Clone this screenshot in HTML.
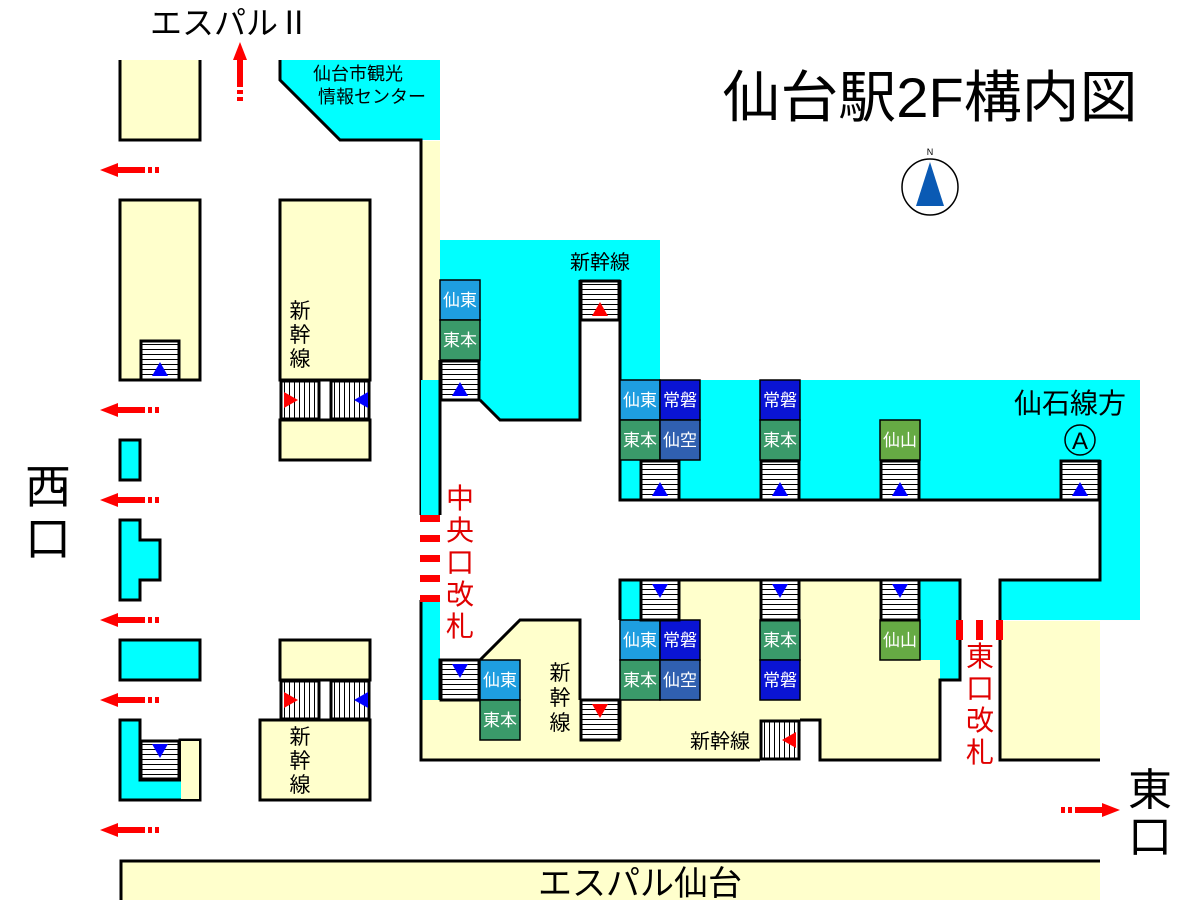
<!DOCTYPE html><html><head><meta charset="utf-8"><style>body{margin:0;background:#fff}svg{display:block}text{font-family:"Liberation Sans","Noto Sans CJK JP",sans-serif}</style></head><body>
<svg width="1200" height="900" viewBox="0 0 1200 900" xmlns="http://www.w3.org/2000/svg">
<defs>
<pattern id="hs" width="8" height="5" patternUnits="userSpaceOnUse"><rect width="8" height="5" fill="#fff"/><line x1="0" y1="4.5" x2="8" y2="4.5" stroke="#000" stroke-width="1"/></pattern>
<pattern id="vs" width="5" height="8" patternUnits="userSpaceOnUse"><rect width="5" height="8" fill="#fff"/><line x1="4.5" y1="0" x2="4.5" y2="8" stroke="#000" stroke-width="1"/></pattern>
<g id="arL"><polygon points="0,0 18,-7 18,-3 45,-3 45,3 18,3 18,7" fill="#f00"/><rect x="48" y="-3" width="4" height="6" fill="#f00"/><rect x="55" y="-3" width="4" height="6" fill="#f00"/></g>
</defs>
<g stroke="#000" stroke-width="3" stroke-linejoin="miter">
<path d="M120,60 V140 H200 V60" fill="#ffffcc"/>
<polygon points="280,60 440,60 440,140 340,140 280,80" fill="#00ffff" stroke="none"/>
<polyline points="280,60 280,80 340,140 421,140 421,515" fill="none"/>
<rect x="421" y="141" width="19" height="239" fill="#ffffcc" stroke="none"/>
<rect x="421" y="380" width="19" height="135" fill="#00ffff" stroke="none"/>
<line x1="421" y1="140" x2="421" y2="515"/>
<path d="M140,380 H120 V200 H200 V380 H180" fill="#ffffcc"/>
<rect x="120" y="440" width="20" height="40" fill="#00ffff"/>
<polygon points="120,520 140,520 140,540 160,540 160,580 140,580 140,600 120,600" fill="#00ffff"/>
<rect x="120" y="640" width="80" height="40" fill="#00ffff"/>
<polygon points="120,720 140,720 140,780 180,780 180,740 200,740 200,800 120,800" fill="#00ffff"/>
<rect x="181" y="741" width="18" height="58" fill="#ffffcc" stroke="none"/>
<rect x="280" y="200" width="90" height="180" fill="#ffffcc"/>
<rect x="280" y="420" width="90" height="40" fill="#ffffcc"/>
<rect x="280" y="640" width="90" height="40" fill="#ffffcc"/>
<rect x="260" y="720" width="110" height="80" fill="#ffffcc"/>
<polygon points="440,240 660,240 660,380 1140,380 1140,620 1000,620 1000,580 1100,580 1100,500 620,500 620,320 580,320 580,420 500,420 480,400 440,400" fill="#00ffff" stroke="none"/>
<rect x="421" y="380" width="19" height="135" fill="#00ffff" stroke="none"/>
<polyline points="440,360 440,515" fill="none"/>
<polyline points="480,400 500,420 580,420 580,280" fill="none"/>
<polyline points="620,280 620,500 1100,500" fill="none"/>
<rect x="1001" y="621" width="99" height="138" fill="#ffffcc" stroke="none"/>
<polyline points="1100,460 1100,580 1000,580 1000,760 1100,760" fill="none"/>
<polygon points="420,600 420,760 760,760 760,720 800,720 800,720 820,720 820,760 940,760 940,680 960,680 960,580 620,580 620,700 580,700 580,620 520,620 480,660 440,660 440,600" fill="#ffffcc" stroke="none"/>
<rect x="421" y="600" width="19" height="100" fill="#00ffff" stroke="none"/>
<rect x="620" y="580" width="20" height="40" fill="#00ffff" stroke="none"/>
<polygon points="920,580 960,580 960,680 940,680 940,660 920,660" fill="#00ffff" stroke="none"/>
<polyline points="421,600 421,760 760,760" fill="none"/>
<polyline points="800,720 820,720 820,760 940,760 940,680 960,680 960,580 620,580 620,620" fill="none"/>
<polyline points="440,700 440,660 480,660 520,620 580,620 580,700" fill="none"/>
<line x1="620" y1="700" x2="620" y2="740"/>
</g>
<rect x="120" y="860" width="980" height="40" fill="#ffffcc"/>
<polyline points="121,900 121,861 1100,861" fill="none" stroke="#000" stroke-width="3"/>
<text x="640" y="895" font-size="34" text-anchor="middle">エスパル仙台</text>
<g font-size="17" fill="#fff" text-anchor="middle" stroke="#000" stroke-width="1.5">
<rect x="440" y="280" width="40" height="40" fill="#1e9ee0"/><rect x="440" y="320" width="40" height="40" fill="#3a9a6a"/>
<rect x="620" y="380" width="40" height="40" fill="#1e9ee0"/><rect x="660" y="380" width="40" height="40" fill="#0a14d4"/>
<rect x="620" y="420" width="40" height="40" fill="#3a9a6a"/><rect x="660" y="420" width="40" height="40" fill="#3060b0"/>
<rect x="760" y="380" width="40" height="40" fill="#0a14d4"/><rect x="760" y="420" width="40" height="40" fill="#3a9a6a"/>
<rect x="880" y="420" width="40" height="40" fill="#66aa44"/>
<rect x="480" y="660" width="40" height="40" fill="#1e9ee0"/><rect x="480" y="700" width="40" height="40" fill="#3a9a6a"/>
<rect x="620" y="620" width="40" height="40" fill="#1e9ee0"/><rect x="660" y="620" width="40" height="40" fill="#0a14d4"/>
<rect x="620" y="660" width="40" height="40" fill="#3a9a6a"/><rect x="660" y="660" width="40" height="40" fill="#3060b0"/>
<rect x="760" y="620" width="40" height="40" fill="#3a9a6a"/><rect x="760" y="660" width="40" height="40" fill="#0a14d4"/>
<rect x="880" y="620" width="40" height="40" fill="#66aa44"/>
</g>
<g font-size="17" fill="#fff" text-anchor="middle">
<text x="460" y="306">仙東</text><text x="460" y="346">東本</text>
<text x="640" y="406">仙東</text><text x="680" y="406">常磐</text><text x="640" y="446">東本</text><text x="680" y="446">仙空</text>
<text x="780" y="406">常磐</text><text x="780" y="446">東本</text><text x="900" y="446">仙山</text>
<text x="500" y="686">仙東</text><text x="500" y="726">東本</text>
<text x="640" y="646">仙東</text><text x="680" y="646">常磐</text><text x="640" y="686">東本</text><text x="680" y="686">仙空</text>
<text x="780" y="646">東本</text><text x="780" y="686">常磐</text><text x="900" y="646">仙山</text>
</g>
<g stroke="#000" stroke-width="3">
<rect x="141" y="341" width="38" height="39" fill="url(#hs)"/>
<rect x="441" y="361" width="38" height="39" fill="url(#hs)"/>
<rect x="581" y="281" width="38" height="39" fill="url(#hs)"/>
<rect x="641" y="461" width="38" height="39" fill="url(#hs)"/>
<rect x="761" y="461" width="38" height="39" fill="url(#hs)"/>
<rect x="881" y="461" width="38" height="39" fill="url(#hs)"/>
<rect x="1061" y="461" width="38" height="39" fill="url(#hs)"/>
<rect x="641" y="580" width="38" height="40" fill="url(#hs)"/>
<rect x="761" y="580" width="38" height="40" fill="url(#hs)"/>
<rect x="881" y="580" width="38" height="40" fill="url(#hs)"/>
<rect x="441" y="660" width="38" height="40" fill="url(#hs)"/>
<rect x="581" y="700" width="38" height="40" fill="url(#hs)"/>
<rect x="141" y="741" width="38" height="38" fill="url(#hs)"/>
<rect x="281" y="381" width="38" height="38" fill="url(#vs)"/>
<rect x="331" y="381" width="38" height="38" fill="url(#vs)"/>
<rect x="281" y="681" width="38" height="38" fill="url(#vs)"/>
<rect x="331" y="681" width="38" height="38" fill="url(#vs)"/>
<rect x="761" y="721" width="38" height="38" fill="url(#vs)"/>
</g>
<g fill="#0000ff">
<polygon points="160,362 152,376 168,376"/><polygon points="460,382 452,396 468,396"/>
<polygon points="660,482 652,496 668,496"/><polygon points="780,482 772,496 788,496"/>
<polygon points="900,482 892,496 908,496"/><polygon points="1080,482 1072,496 1088,496"/>
<polygon points="652,584 668,584 660,598"/><polygon points="772,584 788,584 780,598"/>
<polygon points="892,584 908,584 900,598"/><polygon points="452,664 468,664 460,678"/>
<polygon points="152,744 168,744 160,758"/>
<polygon points="354,400 368,392 368,408"/><polygon points="354,700 368,692 368,708"/>
</g>
<g fill="#f00">
<polygon points="600,302 592,316 608,316"/><polygon points="592,704 608,704 600,718"/>
<polygon points="298,400 284,392 284,408"/><polygon points="298,700 284,692 284,708"/>
<polygon points="782,740 796,732 796,748"/>
</g>
<use href="#arL" x="100" y="170"/><use href="#arL" x="100" y="410"/><use href="#arL" x="100" y="500"/>
<use href="#arL" x="100" y="620"/><use href="#arL" x="100" y="700"/><use href="#arL" x="100" y="830"/>
<use href="#arL" transform="translate(240,42) rotate(90)"/>
<use href="#arL" transform="translate(1120,810) rotate(180)"/>
<g fill="#f00">
<rect x="420" y="515" width="20" height="7"/><rect x="420" y="535" width="20" height="7"/><rect x="420" y="555" width="20" height="7"/><rect x="420" y="575" width="20" height="7"/><rect x="420" y="595" width="20" height="7"/>
<rect x="956" y="620" width="7" height="20"/><rect x="976" y="620" width="7" height="20"/><rect x="996" y="620" width="7" height="20"/>
</g>
<g font-size="28" fill="#e00000" text-anchor="middle">
<text x="460" y="508">中</text><text x="460" y="540">央</text><text x="460" y="572">口</text><text x="460" y="604">改</text><text x="460" y="636">札</text>
<text x="980" y="666">東</text><text x="980" y="698">口</text><text x="980" y="730">改</text><text x="980" y="762">札</text>
</g>
<g fill="#000">
<text x="230" y="34" font-size="32" text-anchor="middle">エスパルⅡ</text>
<text x="358" y="80" font-size="18" text-anchor="middle">仙台市観光</text>
<text x="372" y="103" font-size="18" text-anchor="middle">情報センター</text>
<text x="930" y="117" font-size="56" text-anchor="middle" textLength="415" lengthAdjust="spacingAndGlyphs">仙台駅2F構内図</text>
<text x="48" y="503" font-size="46" text-anchor="middle">西</text>
<text x="48" y="555" font-size="46" text-anchor="middle">口</text>
<text x="1150" y="805" font-size="44" text-anchor="middle">東</text>
<text x="1150" y="852" font-size="44" text-anchor="middle">口</text>
<text x="1070" y="413" font-size="28" text-anchor="middle">仙石線方</text>
<text x="600" y="269" font-size="20" text-anchor="middle">新幹線</text>
<text x="720" y="748" font-size="20" text-anchor="middle">新幹線</text>
<g font-size="21" text-anchor="middle">
<text x="300" y="318">新</text><text x="300" y="342">幹</text><text x="300" y="366">線</text>
<text x="300" y="744">新</text><text x="300" y="768">幹</text><text x="300" y="792">線</text>
<text x="560" y="680">新</text><text x="560" y="705">幹</text><text x="560" y="730">線</text>
</g>
<circle cx="1080" cy="440" r="15" fill="none" stroke="#000" stroke-width="1.5"/>
<text x="1080" y="449" font-size="24" text-anchor="middle">A</text>
<circle cx="930" cy="187" r="28" fill="#fff" stroke="#000" stroke-width="1.5"/>
<polygon points="930,162 916,206 944,206" fill="#0a5ab4"/>
<text x="930" y="155" font-size="9" text-anchor="middle">N</text>
</g>
</svg>
</body></html>
